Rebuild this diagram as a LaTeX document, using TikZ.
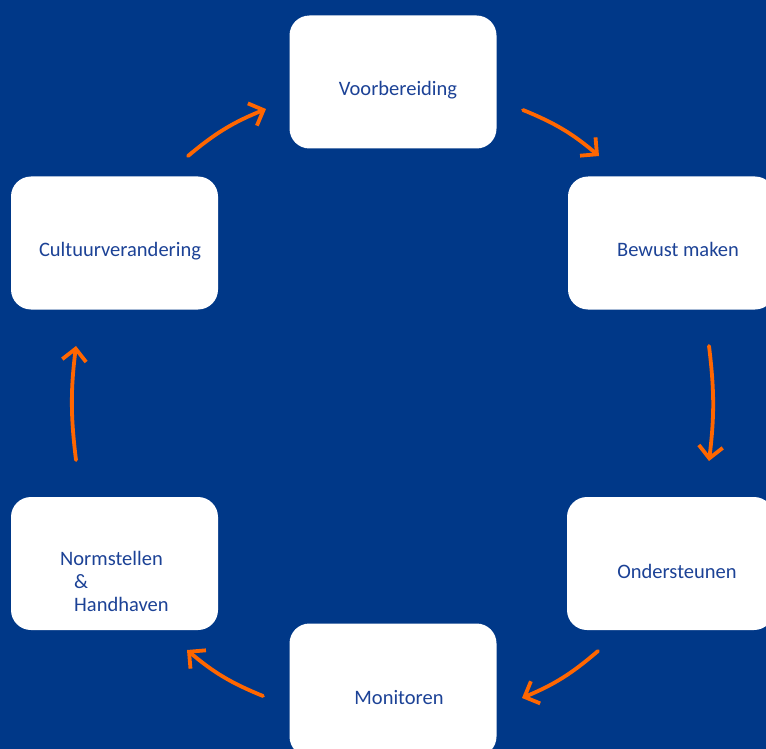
\documentclass[tikz,border=0pt]{standalone}
\usepackage{fontspec}
\setmainfont{Carlito}
\usetikzlibrary{arrows.meta}
\definecolor{bgnavy}{RGB}{0,56,136}
\definecolor{txtblue}{RGB}{28,66,150}
\definecolor{arrorange}{RGB}{255,102,0}
\tikzset{
  stagebox/.style={fill=white, draw=none, rounded corners=20pt, minimum width=207pt, minimum height=133pt, inner sep=0pt},
  stagetext/.style={text=txtblue, font=\fontsize{20.5}{24.5}\selectfont, inner sep=0pt, anchor=base},
  cyclearrow/.style={draw=arrorange, line width=3.8pt, line cap=round, -{Straight Barb[length=12pt, width=24pt, line width=3.8pt]}}
}
\begin{document}
\begin{tikzpicture}[x=1pt, y=-1pt]
\fill[bgnavy] (0,0) rectangle (766,749);
\useasboundingbox (0,0) rectangle (766,749);
% boxes
\node[stagebox] (voor) at (393,82) {};
\node[stagebox] (bewust) at (671.5,243) {};
\node[stagebox] (cultuur) at (114.5,243) {};
\node[stagebox] (onder) at (670.5,563.5) {};
\node[stagebox] (norm) at (114.5,563.5) {};
\node[stagebox] (moni) at (393,690) {};
% texts
\node[stagetext] (tvoor) at (398,96) {Voorbereiding};
\node[stagetext] (tbewust) at (678,256) {Bewust maken};
\node[stagetext] (tcult) at (120,256) {Cultuurverandering};
\node[stagetext] (tonder) at (677,578) {Ondersteunen};
\node[stagetext] (tmoni) at (399,704) {Monitoren};
\node[stagetext, anchor=base west] (tnorm1) at (60,565) {Normstellen};
\node[stagetext, anchor=base west] (tnorm2) at (74,588) {\&};
\node[stagetext, anchor=base west] (tnorm3) at (74,611) {Handhaven};
% arrow end points
\coordinate (a1s) at (188,156);
\coordinate (a1e) at (266,109);
\coordinate (a2s) at (523,110);
\coordinate (a2e) at (599,156);
\coordinate (a3s) at (709,346);
\coordinate (a3e) at (709,461);
\coordinate (a4s) at (598,651);
\coordinate (a4e) at (522,698);
\coordinate (a5s) at (263,696);
\coordinate (a5e) at (187,650);
\coordinate (a6s) at (76,460);
\coordinate (a6e) at (76,346);
% arrows
\draw[cyclearrow] (a1s) to[bend left=9] (a1e);
\draw[cyclearrow] (a2s) to[bend left=9] (a2e);
\draw[cyclearrow] (a3s) to[bend left=7] (a3e);
\draw[cyclearrow] (a4s) to[bend left=9] (a4e);
\draw[cyclearrow] (a5s) to[bend left=9] (a5e);
\draw[cyclearrow] (a6s) to[bend left=7] (a6e);
\end{tikzpicture}
\end{document}
